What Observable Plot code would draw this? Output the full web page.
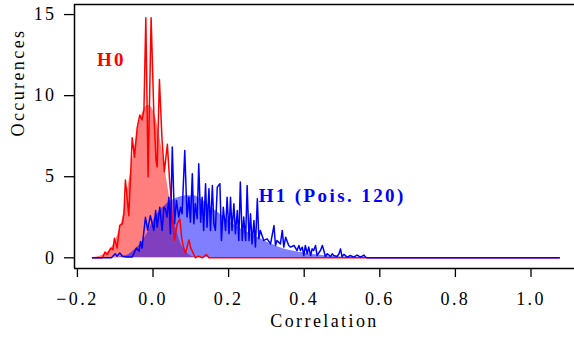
<!DOCTYPE html>
<html><head><meta charset="utf-8">
<script src="https://cdn.jsdelivr.net/npm/d3@7"></script>
<script src="https://cdn.jsdelivr.net/npm/@observablehq/plot@0.6"></script>
<style>html,body{margin:0;padding:0;background:#fff}</style>
</head><body><div id="chart"></div>
<script>
// Axis domains and ticks
const xDomain = [-0.2077, 1.1151];
const yDomain = [-0.66, 15.62];
const xTicks = [-0.2, 0.0, 0.2, 0.4, 0.6, 0.8, 1.0];
const yTicks = [0, 5, 10, 15];

// H0 histogram (correlation, occurences)
const h0Hist = [[-0.160,0],[-0.134,0],[-0.127,0.35],[-0.121,0.2],[-0.112,0.6],[-0.106,0.5],[-0.102,1.2],[-0.095,0.6],
  [-0.088,2.0],[-0.081,2.1],[-0.077,2.7],[-0.073,4.8],[-0.064,2.6],[-0.055,7.4],[-0.049,6.2],[-0.042,8.0],[-0.035,8.8],
  [-0.029,8.5],[-0.024,9.1],[-0.019,14.8],[-0.013,5.0],[-0.005,14.8],[0.002,9.0],[0.008,6.0],[0.011,5.6],[0.017,11.0],
  [0.024,7.2],[0.030,5.3],[0.038,7.0],[0.044,4.7],[0.048,3.7],[0.051,2.3],[0.057,1.1],[0.064,2.1],[0.071,2.4],[0.076,1.2],
  [0.081,0.6],[0.086,0.3],[0.095,1.1],[0.100,0.6],[0.106,0.3],[0.112,0],[0.120,0.1],[0.130,0],[0.141,0.2],[0.148,0],[1.075,0]];

// H1 histogram (Poisson 120)
const h1Hist = [[-0.160,0],[-0.110,0],[-0.100,0.25],[-0.095,0.1],[-0.088,0.3],[-0.081,0.1],[-0.070,0.05],[-0.055,0.05],
  [-0.044,0.6],[-0.037,0.4],[-0.033,1.0],[-0.029,0.6],[-0.020,2.5],[-0.014,1.7],[-0.007,2.6],[0.002,1.69],[0.007,2.92],
  [0.011,1.89],[0.018,3.12],[0.024,1.69],[0.029,3.12],[0.033,3.02],[0.037,2.51],[0.042,3.74],[0.046,1.48],[0.051,6.83],
  [0.057,2.10],[0.062,3.54],[0.068,2.51],[0.073,3.12],[0.077,2.72],[0.084,6.62],[0.090,2.51],[0.095,3.74],[0.099,2.20],
  [0.104,5.19],[0.108,2.10],[0.112,3.33],[0.117,2.41],[0.121,5.80],[0.126,2.20],[0.130,3.74],[0.134,1.69],[0.139,4.57],
  [0.143,1.89],[0.148,4.26],[0.152,1.69],[0.157,4.46],[0.161,2.10],[0.165,1.69],[0.170,4.36],[0.177,4.57],[0.181,1.07],
  [0.186,3.12],[0.192,1.69],[0.196,3.74],[0.201,1.48],[0.205,3.74],[0.209,1.69],[0.214,3.33],[0.218,1.48],[0.223,2.92],
  [0.227,1.07],[0.231,4.67],[0.236,1.07],[0.240,2.51],[0.245,1.07],[0.249,4.46],[0.254,1.07],[0.258,2.72],[0.262,0.86],
  [0.267,2.30],[0.271,0.66],[0.276,3.64],[0.280,1.17],[0.284,1.69],[0.293,1.07],[0.302,1.17],[0.311,0.86],[0.320,1.99],
  [0.324,0.76],[0.328,1.07],[0.337,0.86],[0.342,1.69],[0.346,0.66],[0.351,1.27],[0.359,0.76],[0.364,0.66],[0.373,0.76],
  [0.381,0.45],[0.386,0.76],[0.390,0.45],[0.395,0.66],[0.399,0.14],[0.403,0.76],[0.408,0.25],[0.412,0.66],[0.417,0.14],
  [0.421,0.55],[0.425,0.45],[0.430,0.76],[0.434,0.14],[0.443,0.45],[0.448,0.76],[0.452,0.45],[0.456,0.08],[0.461,0.25],
  [0.470,0.08],[0.474,0.25],[0.478,0.14],[0.487,0.08],[0.492,0.25],[0.496,0.55],[0.500,0.08],[0.505,0.21],[0.514,0.04],
  [0.522,0.14],[0.531,0.04],[0.540,0.17],[0.549,0.04],[0.558,0.17],[0.562,0.04],[0.567,0],[1.075,0]];

// Smoothed densities
const h0Dens = [[-0.160,0],[-0.130,0.2],[-0.110,0.6],[-0.095,1.3],[-0.080,2.5],[-0.070,3.8],[-0.060,5.2],[-0.050,6.6],
  [-0.040,7.9],[-0.030,8.8],[-0.020,9.3],[-0.012,9.4],[-0.005,9.3],[0.005,8.8],[0.015,7.8],[0.025,6.5],[0.035,5.0],
  [0.045,3.6],[0.055,2.4],[0.065,1.5],[0.075,0.8],[0.090,0.3],[0.110,0.05],[0.130,0],[1.075,0]];
const h1Dens = [[-0.160,0],[-0.100,0.02],[-0.080,0.08],[-0.068,0.15],[-0.051,0.45],[-0.033,0.86],[-0.015,1.5],[0.002,2.35],
  [0.020,2.95],[0.038,3.35],[0.055,3.6],[0.072,3.75],[0.090,3.83],[0.105,3.83],[0.120,3.74],[0.134,3.5],[0.152,3.15],
  [0.170,2.82],[0.188,2.51],[0.205,2.2],[0.223,1.9],[0.240,1.7],[0.258,1.48],[0.276,1.27],[0.293,1.07],[0.311,0.86],
  [0.328,0.7],[0.346,0.55],[0.373,0.41],[0.399,0.29],[0.434,0.17],[0.478,0.08],[0.522,0.04],[0.567,0.01],[0.620,0],[1.075,0]];

// Annotations (data coordinates)
const labels = [
  {text: "H0", x: -0.11, y: 12.2, color: "#ff0000"},
  {text: "H1 (Pois. 120)", x: 0.474, y: 3.84, color: "#0000ff"}
];

const X = d => d[0], Y = d => d[1];
const chart = Plot.plot({
  width: 574, height: 340,
  marginLeft: 74, marginRight: 0, marginTop: 4, marginBottom: 72,
  x: {domain: xDomain},
  y: {domain: yDomain},
  style: {fontFamily: "'Liberation Serif', serif", fontSize: "18px", letterSpacing: "2.4px", color: "black", background: "white"},
  marks: [
    Plot.areaY(h0Dens, {x: X, y: Y, fill: "#ff0000", fillOpacity: 0.5, curve: "monotone-x"}),
    Plot.areaY(h1Dens, {x: X, y: Y, fill: "#0000ff", fillOpacity: 0.5, curve: "monotone-x"}),
    Plot.lineY(h0Hist, {x: X, y: Y, stroke: "#ff0000", strokeWidth: 1.5}),
    Plot.lineY(h1Hist, {x: X, y: Y, stroke: "#0000ff", strokeWidth: 1.5}),
    Plot.ruleX([xDomain[0]], {stroke: "black", strokeWidth: 1.5}),
    Plot.ruleY([yDomain[1]], {stroke: "black", strokeWidth: 1.5}),
    Plot.ruleY([yDomain[0]], {stroke: "black", strokeWidth: 1.5}),
    Plot.axisX(xTicks, {tickSize: 9, tickPadding: 15, tickFormat: d3.format(".1f"), strokeWidth: 1.3, label: null}),
    Plot.axisY(yTicks, {tickSize: 10, tickPadding: 8, strokeWidth: 1.3, label: null}),
    Plot.text(["Occurences"], {frameAnchor: "left", dx: -56, rotate: -90, text: d => d}),
    Plot.text(["Correlation"], {frameAnchor: "bottom", dy: 58, text: d => d}),
    Plot.text(labels, {x: "x", y: "y", text: "text", fill: "color", fontWeight: "bold", fontSize: 19})
  ]
});
document.getElementById("chart").appendChild(chart);
</script>
</body></html>
